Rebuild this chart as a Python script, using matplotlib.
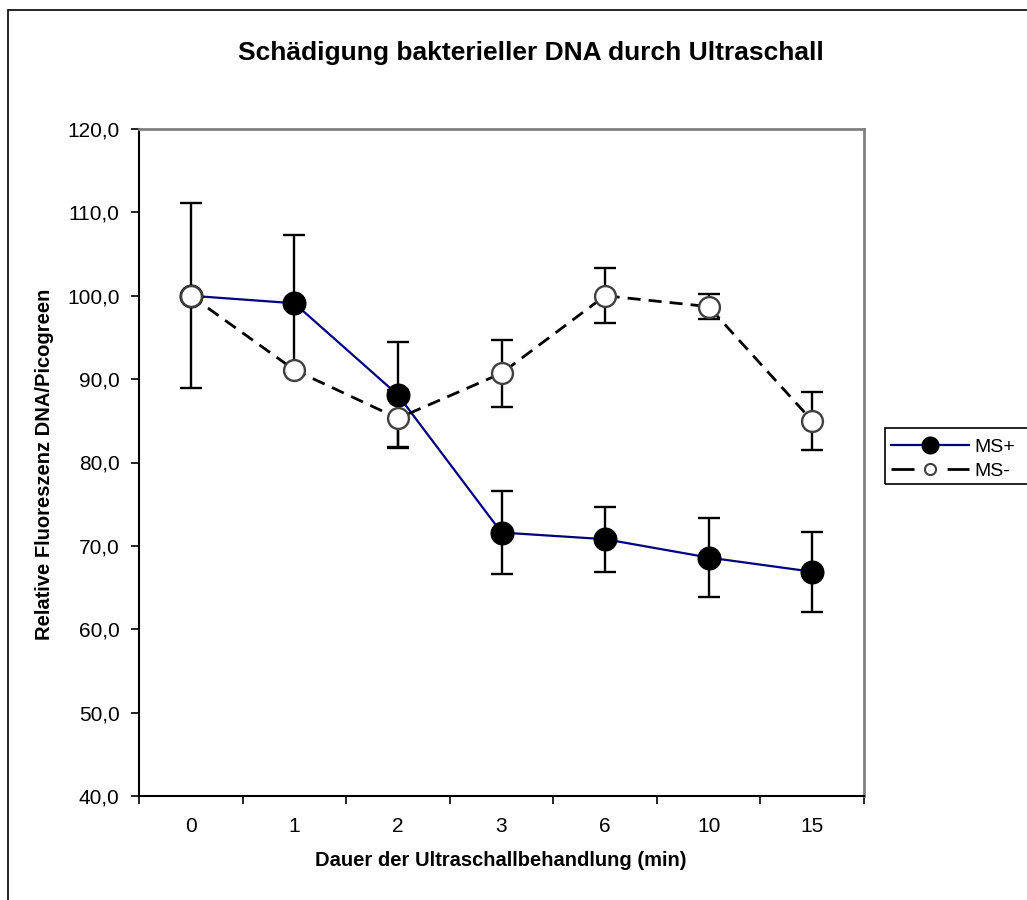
import matplotlib
matplotlib.use("Agg")
import matplotlib.pyplot as plt
from matplotlib.lines import Line2D
from matplotlib.patches import Rectangle
import numpy as np

plt.rcParams['font.family'] = ['Liberation Sans', 'DejaVu Sans']

# data
categories = ['0', '1', '2', '3', '6', '10', '15']
ms_plus = [100.0, 99.1, 88.1, 71.6, 70.8, 68.6, 66.9]
ms_plus_err = [11.1, 8.2, 6.4, 5.0, 3.9, 4.7, 4.8]
ms_minus = [100.0, 91.1, 85.3, 90.7, 100.0, 98.7, 85.0]
ms_minus_err = [0.0, 0.0, 3.4, 4.0, 3.3, 1.5, 3.5]
y_ticks = [40, 50, 60, 70, 80, 90, 100, 110, 120]

W, H = 1027, 900
fig = plt.figure(figsize=(W / 100, H / 100), dpi=100)

# outer chart frame (cut off at right and bottom like the original)
fig.patches.append(Rectangle((8 / W, -0.5), 2, 1 - 10 / H + 0.5,
                             transform=fig.transFigure, fill=False,
                             edgecolor='black', lw=1.2))

ax = fig.add_axes([139 / W, 1 - 796 / H, (864 - 139) / W, (796 - 129) / H])
x = np.arange(len(categories))

ax.errorbar(x, ms_plus, yerr=ms_plus_err, fmt='none', ecolor='black',
            elinewidth=1.7, capsize=8, capthick=1.7, zorder=2)
ax.errorbar(x, ms_minus, yerr=ms_minus_err, fmt='none', ecolor='black',
            elinewidth=1.7, capsize=8, capthick=1.7, zorder=2)

ax.plot(x, ms_plus, color='#000080', lw=1.6, zorder=3)
ax.plot(x, ms_minus, color='black', lw=2, ls=(0, (4.7, 2.9)), zorder=3)
ax.plot(x, ms_plus, ls='none', marker='o', ms=16.3, mfc='black', mec='black', zorder=4)
ax.plot(x, ms_minus, ls='none', marker='o', ms=15, mfc='white', mec='#404040',
        mew=1.7, zorder=5)

ax.set_xlim(-0.5, len(categories) - 0.5)
ax.set_ylim(40, 120)

# y axis
ax.set_yticks(y_ticks)
ax.set_yticklabels([f"{v:.1f}".replace('.', ',') for v in y_ticks])
ax.tick_params(axis='y', direction='out', length=6, width=1.2, pad=8, labelsize=15)

# x axis: ticks between categories, labels at centers
ax.set_xticks(np.arange(-0.5, len(categories), 1.0))
ax.set_xticklabels([])
ax.set_xticks(x, minor=True)
ax.set_xticklabels(categories, minor=True)
ax.tick_params(axis='x', which='major', direction='out', length=6, width=1.2)
ax.tick_params(axis='x', which='minor', length=0, pad=15, labelsize=15)

for side in ['top', 'right']:
    ax.spines[side].set_color('#808080')
    ax.spines[side].set_linewidth(2)
for side in ['left', 'bottom']:
    ax.spines[side].set_color('black')
    ax.spines[side].set_linewidth(1.5)

fig.text(531 / W, 1 - 53 / H, 'Schädigung bakterieller DNA durch Ultraschall',
         ha='center', va='center', fontsize=19, fontweight='bold')
fig.text(501 / W, 1 - 861 / H, 'Dauer der Ultraschallbehandlung (min)',
         ha='center', va='center', fontsize=14.5, fontweight='bold')
fig.text(45 / W, 1 - 464 / H, 'Relative Fluoreszenz DNA/Picogreen',
         ha='center', va='center', rotation=90, fontsize=14.5, fontweight='bold')

# legend
fig.patches.append(Rectangle((885 / W, 1 - 484 / H), 200 / W, 56 / H,
                             transform=fig.transFigure, fill=False,
                             edgecolor='black', lw=1.2))
handles = [
    Line2D([], [], color='#000080', lw=1.6, marker='o', ms=12,
           mfc='black', mec='black'),
    Line2D([], [], color='black', lw=2, ls=(0, (8.3, 11.9)), marker='o', ms=8,
           mfc='white', mec='#404040', mew=1.5),
]
fig.legend(handles, ['MS+', 'MS-'], loc='center left',
           bbox_to_anchor=(891 / W, 1 - 459 / H), frameon=False, fontsize=14,
           handlelength=4.0, handletextpad=0.3, labelspacing=0.3,
           borderpad=0.0, borderaxespad=0.0, numpoints=1)

fig.savefig('out.png', dpi=100)
